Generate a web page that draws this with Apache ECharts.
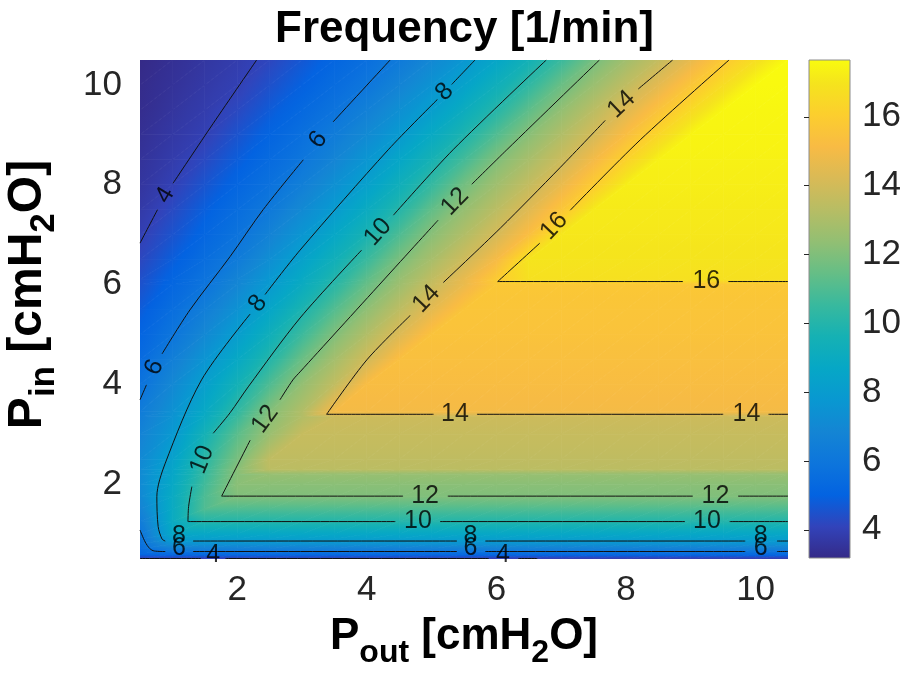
<!DOCTYPE html>
<html>
<head>
<meta charset="utf-8">
<title>Frequency [1/min]</title>
<script src="https://cdn.jsdelivr.net/npm/echarts@6/dist/echarts.min.js"></script>
<style>
  html, body { margin: 0; padding: 0; background: #ffffff; }
  #chart { width: 905px; height: 673px; }
</style>
</head>
<body>
<div id="chart"></div>
<script>
// Sample grid: columns are P_out, rows are P_in (cmH2O)
const P_OUT = [0.5, 1, 1.5, 2, 2.5, 3, 3.5, 4, 4.5, 5, 5.5, 6, 6.5, 7, 7.5, 8, 8.5, 9, 9.5, 10, 10.5];
const P_IN = [0.5, 0.6, 0.7, 0.8, 0.9, 1, 1.25, 1.5, 1.75, 2, 2.2, 2.3, 2.5, 3, 3.35, 3.45, 4, 4.5, 5, 5.5, 6, 6.1, 6.5, 7, 7.5, 8, 8.5, 9, 9.5, 10, 10.5];

// Frequency [1/min], one row per P_in value
const FREQ = [
  [3.85, 3.85, 3.85, 3.85, 3.85, 3.85, 3.85, 3.85, 3.85, 3.85, 3.85, 3.85, 3.85, 3.85, 3.85, 3.85, 3.85, 3.85, 3.85, 3.85, 3.85],
  [5.2, 5.4, 5.4, 5.4, 5.4, 5.4, 5.4, 5.4, 5.4, 5.4, 5.4, 5.4, 5.4, 5.4, 5.4, 5.4, 5.4, 5.4, 5.4, 5.4, 5.4],
  [5.5, 6.5, 6.5, 6.5, 6.5, 6.5, 6.5, 6.5, 6.5, 6.5, 6.5, 6.5, 6.5, 6.5, 6.5, 6.5, 6.5, 6.5, 6.5, 6.5, 6.5],
  [5.7, 7.45, 7.45, 7.45, 7.45, 7.45, 7.45, 7.45, 7.45, 7.45, 7.45, 7.45, 7.45, 7.45, 7.45, 7.45, 7.45, 7.45, 7.45, 7.45, 7.45],
  [5.8, 8.2, 8.2, 8.2, 8.2, 8.2, 8.2, 8.2, 8.2, 8.2, 8.2, 8.2, 8.2, 8.2, 8.2, 8.2, 8.2, 8.2, 8.2, 8.2, 8.2],
  [5.9, 8.7, 8.7, 8.7, 8.7, 8.7, 8.7, 8.7, 8.7, 8.7, 8.7, 8.7, 8.7, 8.7, 8.7, 8.7, 8.7, 8.7, 8.7, 8.7, 8.7],
  [6.3, 8.96, 10, 10, 10, 10, 10, 10, 10, 10, 10, 10, 10, 10, 10, 10, 10, 10, 10, 10, 10],
  [6.7, 8.94, 11, 11, 11, 11, 11, 11, 11, 11, 11, 11, 11, 11, 11, 11, 11, 11, 11, 11, 11],
  [7.0, 8.92, 10.94, 12, 12, 12, 12, 12, 12, 12, 12, 12, 12, 12, 12, 12, 12, 12, 12, 12, 12],
  [7.1, 8.76, 10.7, 12.2, 12.2, 12.2, 12.2, 12.2, 12.2, 12.2, 12.2, 12.2, 12.2, 12.2, 12.2, 12.2, 12.2, 12.2, 12.2, 12.2, 12.2],
  [7.1, 8.59, 10.49, 12.13, 12.5, 12.5, 12.5, 12.5, 12.5, 12.5, 12.5, 12.5, 12.5, 12.5, 12.5, 12.5, 12.5, 12.5, 12.5, 12.5, 12.5],
  [7.1, 8.51, 10.41, 12.13, 13.4, 13.4, 13.4, 13.4, 13.4, 13.4, 13.4, 13.4, 13.4, 13.4, 13.4, 13.4, 13.4, 13.4, 13.4, 13.4, 13.4],
  [7.0, 8.31, 10.2, 11.84, 13.5, 13.5, 13.5, 13.5, 13.5, 13.5, 13.5, 13.5, 13.5, 13.5, 13.5, 13.5, 13.5, 13.5, 13.5, 13.5, 13.5],
  [6.7, 7.82, 9.56, 11.21, 12.57, 13.7, 13.7, 13.7, 13.7, 13.7, 13.7, 13.7, 13.7, 13.7, 13.7, 13.7, 13.7, 13.7, 13.7, 13.7, 13.7],
  [6.4, 7.54, 8.94, 10.56, 12.18, 13.16, 13.85, 13.85, 13.85, 13.85, 13.85, 13.85, 13.85, 13.85, 13.85, 13.85, 13.85, 13.85, 13.85, 13.85, 13.85],
  [6.3, 7.45, 8.79, 10.35, 12.06, 13.13, 15.0, 15.0, 15.0, 15.0, 15.0, 15.0, 15.0, 15.0, 15.0, 15.0, 15.0, 15.0, 15.0, 15.0, 15.0],
  [5.8, 6.98, 8.21, 9.49, 10.98, 12.42, 13.52, 15.2, 15.2, 15.2, 15.2, 15.2, 15.2, 15.2, 15.2, 15.2, 15.2, 15.2, 15.2, 15.2, 15.2],
  [5.4, 6.49, 7.6, 8.79, 10.03, 11.55, 12.81, 13.98, 15.35, 15.35, 15.35, 15.35, 15.35, 15.35, 15.35, 15.35, 15.35, 15.35, 15.35, 15.35, 15.35],
  [5.1, 5.95, 7.0, 8.07, 9.31, 10.61, 12.0, 13.14, 14.29, 15.5, 15.5, 15.5, 15.5, 15.5, 15.5, 15.5, 15.5, 15.5, 15.5, 15.5, 15.5],
  [4.8, 5.57, 6.45, 7.48, 8.6, 9.79, 11.08, 12.33, 13.43, 14.52, 15.6, 15.6, 15.6, 15.6, 15.6, 15.6, 15.6, 15.6, 15.6, 15.6, 15.6],
  [4.5, 5.2, 5.9, 6.88, 7.9, 9.01, 10.16, 11.47, 12.63, 13.68, 14.72, 15.75, 15.75, 15.75, 15.75, 15.75, 15.75, 15.75, 15.75, 15.75, 15.75],
  [4.45, 5.14, 5.83, 6.77, 7.78, 8.87, 9.98, 11.29, 12.48, 13.52, 14.66, 15.88, 16.8, 16.8, 16.8, 16.8, 16.8, 16.8, 16.8, 16.8, 16.8],
  [4.2, 4.86, 5.52, 6.28, 7.29, 8.32, 9.38, 10.55, 11.87, 12.9, 13.9, 15.07, 16.95, 16.95, 16.95, 16.95, 16.95, 16.95, 16.95, 16.95, 16.95],
  [3.95, 4.55, 5.19, 5.83, 6.7, 7.66, 8.67, 9.73, 10.96, 12.19, 13.13, 14.1, 15.3, 17.05, 17.05, 17.05, 17.05, 17.05, 17.05, 17.05, 17.05],
  [3.75, 4.28, 4.9, 5.51, 6.18, 7.07, 7.96, 9.0, 10.05, 11.37, 12.47, 13.38, 14.4, 15.63, 17.15, 17.15, 17.15, 17.15, 17.15, 17.15, 17.15],
  [3.6, 4.0, 4.58, 5.17, 5.75, 6.5, 7.37, 8.29, 9.32, 10.44, 11.72, 12.7, 13.6, 14.69, 15.93, 17.25, 17.25, 17.25, 17.25, 17.25, 17.25],
  [3.5, 3.83, 4.28, 4.85, 5.41, 5.98, 6.81, 7.66, 8.61, 9.62, 10.77, 12.0, 12.91, 13.82, 14.99, 16.21, 17.35, 17.35, 17.35, 17.35, 17.35],
  [3.4, 3.7, 3.99, 4.55, 5.11, 5.66, 6.32, 7.11, 7.9, 8.87, 9.86, 11.04, 12.19, 13.12, 14.07, 15.26, 16.4, 17.45, 17.45, 17.45, 17.45],
  [3.3, 3.58, 3.85, 4.24, 4.78, 5.31, 5.84, 6.55, 7.33, 8.13, 9.1, 10.07, 11.28, 12.39, 13.36, 14.38, 15.49, 16.53, 17.5, 17.5, 17.5],
  [3.25, 3.49, 3.74, 3.98, 4.47, 4.97, 5.48, 5.99, 6.76, 7.53, 8.37, 9.31, 10.32, 11.54, 12.57, 13.5, 14.52, 15.64, 16.65, 17.6, 17.6],
  [3.18, 3.41, 3.64, 3.86, 4.19, 4.68, 5.17, 5.65, 6.21, 6.98, 7.74, 8.6, 9.51, 10.56, 11.78, 12.73, 13.61, 14.64, 15.79, 16.74, 17.65]
];

// Iso-frequency lines, [P_out, P_in] points, split at label gaps and at corners
const C4 = [
  [[0.5, 6.83], [0.77, 7.5]],
  [[1.01, 8.03], [1.63, 9.23], [2.3, 10.5]],
  [[0.5, 0.51], [1.44, 0.51]],
  [[1.82, 0.51], [5.88, 0.51]],
  [[6.34, 0.51], [6.63, 0.51]]
];
const C6 = [
  [[0.5, 3.69], [0.6, 3.99]],
  [[0.84, 4.61], [1.27, 5.49], [1.89, 6.56], [2.4, 7.5], [3.02, 8.5]],
  [[3.48, 9.26], [4.36, 10.5]],
  [[0.5, 1.08], [0.58, 0.84], [0.65, 0.71], [0.72, 0.66], [0.89, 0.65]],
  [[1.32, 0.65], [5.39, 0.65]],
  [[5.83, 0.65], [9.84, 0.65]],
  [[10.33, 0.65], [10.5, 0.65]]
];
const C8 = [
  [[5.67, 10.5], [5.31, 10.01]],
  [[5.09, 9.71], [4.33, 8.7], [2.97, 6.69], [2.43, 5.8]],
  [[2.2, 5.41], [1.45, 4.09], [0.89, 2.42], [0.76, 1.75], [0.78, 1.15], [0.84, 0.9], [0.89, 0.86]],
  [[1.32, 0.86], [5.39, 0.86]],
  [[5.83, 0.86], [9.84, 0.86]],
  [[10.33, 0.86], [10.5, 0.86]]
];
const C10 = [
  [[6.77, 10.5], [5.33, 8.7], [4.41, 7.39]],
  [[3.92, 6.69], [2.97, 5.33], [2.17, 3.95], [1.89, 3.43], [1.63, 3.02]],
  [[1.3, 1.95], [1.25, 1.55], [1.24, 1.25]],
  [[1.24, 1.25], [4.44, 1.25]],
  [[5.13, 1.25], [8.91, 1.25]],
  [[9.6, 1.25], [10.5, 1.25]]
];
const C12 = [
  [[7.59, 10.5], [6.16, 8.7], [5.62, 8.01]],
  [[5.1, 7.29], [2.97, 4.25], [2.86, 4.09], [2.66, 3.69]],
  [[2.2, 2.88], [1.76, 1.76]],
  [[1.76, 1.76], [4.56, 1.76]],
  [[5.25, 1.76], [9.03, 1.76]],
  [[9.73, 1.76], [10.5, 1.76]]
];
const C14 = [
  [[8.72, 10.5], [8.19, 9.92]],
  [[7.68, 9.29], [6.98, 8.34], [6.06, 7.13], [5.18, 6.04]],
  [[4.67, 5.38], [4.0, 4.49], [3.38, 3.4]],
  [[3.38, 3.4], [5.03, 3.4]],
  [[5.7, 3.4], [9.5, 3.4]],
  [[10.2, 3.4], [10.5, 3.4]]
];
const C16 = [
  [[9.59, 10.5], [8.22, 8.9], [7.14, 7.49]],
  [[6.67, 6.83], [6.02, 6.06]],
  [[6.02, 6.06], [8.88, 6.06]],
  [[9.58, 6.06], [10.5, 6.06]]
];

// Level labels: [P_out, P_in, text, rotation in degrees]
const LEVEL_LABELS = [
  [0.89, 7.79, '4', 59], [1.63, 0.57, '4', 0], [6.1, 0.57, '4', 0],
  [3.25, 8.9, '6', 52], [0.72, 4.34, '6', 66],
  [1.1, 0.72, '6', 0], [5.6, 0.72, '6', 0], [10.08, 0.72, '6', 0],
  [2.32, 5.62, '8', 52], [5.2, 9.86, '8', 46],
  [1.1, 0.95, '8', 0], [5.6, 0.95, '8', 0], [10.08, 0.95, '8', 0],
  [1.46, 2.49, '10', 68], [4.17, 7.05, '10', 48], [4.79, 1.25, '10', 0], [9.25, 1.25, '10', 0],
  [2.43, 3.3, '12', 54], [5.36, 7.66, '12', 46], [4.9, 1.76, '12', 0], [9.38, 1.76, '12', 0],
  [4.92, 5.71, '14', 46], [7.93, 9.61, '14', 43], [5.36, 3.4, '14', 0], [9.86, 3.4, '14', 0],
  [6.89, 7.17, '16', 47], [9.24, 6.06, '16', 0]
];

const X_TICKS = [2, 4, 6, 8, 10];
const Y_TICKS = [2, 4, 6, 8, 10];
const CBAR_TICKS = [4, 6, 8, 10, 12, 14, 16];
const F_MIN = 3.18;
const F_MAX = 17.65;

// parula colormap, entries 0,4,...,60,63 of the 64-step table
const CMAP_IDX = [0, 4, 8, 12, 16, 20, 24, 28, 32, 36, 40, 44, 48, 52, 56, 60, 63];
const CMAP_RGB = [
  [53, 42, 135], [50, 67, 186], [3, 99, 225], [13, 117, 220], [20, 133, 212],
  [9, 152, 209], [6, 167, 198], [21, 177, 180], [56, 185, 158], [101, 190, 134],
  [146, 191, 115], [183, 189, 100], [217, 186, 86], [248, 187, 68], [252, 206, 46],
  [245, 228, 29], [249, 251, 14]
];

const FONT = "'Liberation Sans', Arial, Helvetica, sans-serif";
const INK = '#262626';

function colorAt(v) {
  let t = (v - F_MIN) / (F_MAX - F_MIN);
  t = Math.max(0, Math.min(1, t));
  const pos = t * 63;
  let k = 0;
  while (k < CMAP_IDX.length - 2 && pos > CMAP_IDX[k + 1]) k++;
  const f = (pos - CMAP_IDX[k]) / (CMAP_IDX[k + 1] - CMAP_IDX[k]);
  const a = CMAP_RGB[k], b = CMAP_RGB[k + 1];
  const c = a.map((ch, n) => Math.round(ch + (b[n] - ch) * f));
  return 'rgb(' + c.join(',') + ')';
}

// Linear shading across a triangle: the value field is planar, so a single
// gradient along its steepest direction reproduces it.
function triangleFill(P, V) {
  const e1x = P[1][0] - P[0][0], e1y = P[1][1] - P[0][1];
  const e2x = P[2][0] - P[0][0], e2y = P[2][1] - P[0][1];
  const d1 = V[1] - V[0], d2 = V[2] - V[0];
  const det = e1x * e2y - e1y * e2x;
  if (Math.abs(det) < 1e-9) return colorAt(V[0]);
  const gx = (d1 * e2y - e1y * d2) / det;
  const gy = (e1x * d2 - d1 * e2x) / det;
  const gl = Math.hypot(gx, gy);
  if (!isFinite(gl) || gl < 1e-9) return colorAt(V[0]);
  const ux = gx / gl, uy = gy / gl;
  const s = P.map(p => (p[0] - P[0][0]) * ux + (p[1] - P[0][1]) * uy);
  const sMin = Math.min(s[0], s[1], s[2]);
  const sMax = Math.max(s[0], s[1], s[2]);
  const vA = V[0] + gl * sMin, vB = V[0] + gl * sMax;
  const n = Math.max(2, Math.ceil(Math.abs(vB - vA) / 0.2));
  const stops = [];
  for (let k = 0; k <= n; k++) {
    const f = k / n;
    stops.push({ offset: f, color: colorAt(vA + (vB - vA) * f) });
  }
  return new echarts.graphic.LinearGradient(
    P[0][0] + ux * sMin, P[0][1] + uy * sMin,
    P[0][0] + ux * sMax, P[0][1] + uy * sMax,
    stops, true
  );
}

// one item per grid cell
const CELLS = [];
for (let j = 0; j < P_IN.length - 1; j++) {
  for (let i = 0; i < P_OUT.length - 1; i++) {
    CELLS.push([P_OUT[i], P_IN[j], i, j]);
  }
}

function renderCell(params, api) {
  const i = api.value(2), j = api.value(3);
  const pt = (a, b) => api.coord([P_OUT[a], P_IN[b]]);
  const p00 = pt(i, j), p10 = pt(i + 1, j), p01 = pt(i, j + 1), p11 = pt(i + 1, j + 1);
  const v00 = FREQ[j][i], v10 = FREQ[j][i + 1], v01 = FREQ[j + 1][i], v11 = FREQ[j + 1][i + 1];
  const tri = (P, V) => {
    const fill = triangleFill(P, V);
    return { type: 'polygon', shape: { points: P }, style: { fill: fill, stroke: fill, lineWidth: 0.8 } };
  };
  return {
    type: 'group',
    children: [tri([p00, p10, p11], [v00, v10, v11]), tri([p00, p11, p01], [v00, v11, v01])]
  };
}

function renderColorbar(params, api) {
  const lo = api.coord([0, F_MIN]);
  const hi = api.coord([1, F_MAX]);
  const stops = CMAP_IDX.map((idx, k) => ({ offset: idx / 63, color: 'rgb(' + CMAP_RGB[k].join(',') + ')' }));
  return {
    type: 'rect',
    shape: { x: lo[0], y: hi[1], width: hi[0] - lo[0], height: lo[1] - hi[1] },
    style: { fill: new echarts.graphic.LinearGradient(0, 1, 0, 0, stops), stroke: '#8c8c8c', lineWidth: 1 }
  };
}

const lineSeries = [];
[C4, C6, C8, C10, C12, C14, C16].forEach(level => {
  level.forEach(seg => {
    lineSeries.push({
      type: 'line',
      xAxisIndex: 0,
      yAxisIndex: 0,
      data: seg,
      symbol: 'none',
      smooth: 0.3,
      silent: true,
      z: 3,
      lineStyle: { color: '#111111', width: 1 }
    });
  });
});

// bold label text with lowered subscripts
function subscriptRich(size, subSize, drop) {
  return {
    a: { fontSize: size, fontWeight: 'bold', fontFamily: FONT, color: '#000', verticalAlign: 'top' },
    s: { fontSize: subSize, fontWeight: 'bold', fontFamily: FONT, color: '#000', verticalAlign: 'top', padding: [drop, 0, 0, 0] }
  };
}

const chart = echarts.init(document.getElementById('chart'), null, { renderer: 'canvas' });
chart.setOption({
  animation: false,
  backgroundColor: '#ffffff',
  title: {
    text: 'Frequency [1/min]',
    left: 275,
    top: 2,
    padding: 0,
    textStyle: { fontSize: 44, fontWeight: 'bold', color: '#000', fontFamily: FONT, lineHeight: 56 }
  },
  grid: [
    { left: 140, top: 60, width: 648, height: 499, outerBoundsMode: 'none', containLabel: false },
    { left: 809, top: 60, width: 41, height: 498, outerBoundsMode: 'none', containLabel: false }
  ],
  xAxis: [
    {
      type: 'value', gridIndex: 0, min: 0.5, max: 10.5,
      axisLine: { show: false }, axisTick: { show: false }, splitLine: { show: false },
      axisLabel: { customValues: X_TICKS, fontSize: 35, color: INK, fontFamily: FONT, margin: 14 },
      name: '{a|P}{s|out}{a| [cmH}{s|2}{a|O]}',
      nameLocation: 'middle', nameGap: 56,
      nameTextStyle: { rich: subscriptRich(44, 32, 22) }
    },
    { type: 'value', gridIndex: 1, min: 0, max: 1, show: false }
  ],
  yAxis: [
    {
      type: 'value', gridIndex: 0, min: 0.5, max: 10.5,
      axisLine: { show: false }, axisTick: { show: false }, splitLine: { show: false },
      axisLabel: { customValues: Y_TICKS, fontSize: 35, color: INK, fontFamily: FONT, margin: 18 },
      name: '{a|P}{s|in}{a| [cmH}{s|2}{a|O]}',
      nameLocation: 'middle', nameGap: 78, nameRotate: 90,
      nameTextStyle: { padding: [0, 0, 0, 30], rich: subscriptRich(48, 35, 23) }
    },
    {
      type: 'value', gridIndex: 1, min: F_MIN, max: F_MAX, position: 'right', z: 10,
      axisLine: { show: false }, splitLine: { show: false },
      axisTick: { show: true, inside: true, length: 5, customValues: CBAR_TICKS, lineStyle: { color: INK, width: 1 } },
      axisLabel: { customValues: CBAR_TICKS, fontSize: 35, color: INK, fontFamily: FONT, margin: 12 }
    }
  ],
  series: [
    {
      type: 'custom',
      name: 'Frequency',
      xAxisIndex: 0, yAxisIndex: 0,
      data: CELLS,
      encode: { x: 0, y: 1 },
      renderItem: renderCell,
      clip: true,
      silent: true,
      z: 1
    },
    ...lineSeries,
    {
      type: 'scatter',
      xAxisIndex: 0, yAxisIndex: 0,
      symbolSize: 0.1,
      silent: true,
      z: 5,
      itemStyle: { color: 'rgba(0,0,0,0)' },
      label: { show: true, position: 'inside', fontSize: 25, color: '#000', fontFamily: FONT },
      data: LEVEL_LABELS.map(l => ({ value: [l[0], l[1]], label: { formatter: l[2], rotate: l[3] } }))
    },
    {
      type: 'custom',
      xAxisIndex: 1, yAxisIndex: 1,
      data: [[0, F_MIN]],
      renderItem: renderColorbar,
      silent: true,
      z: 1
    }
  ]
});
</script>
</body>
</html>
